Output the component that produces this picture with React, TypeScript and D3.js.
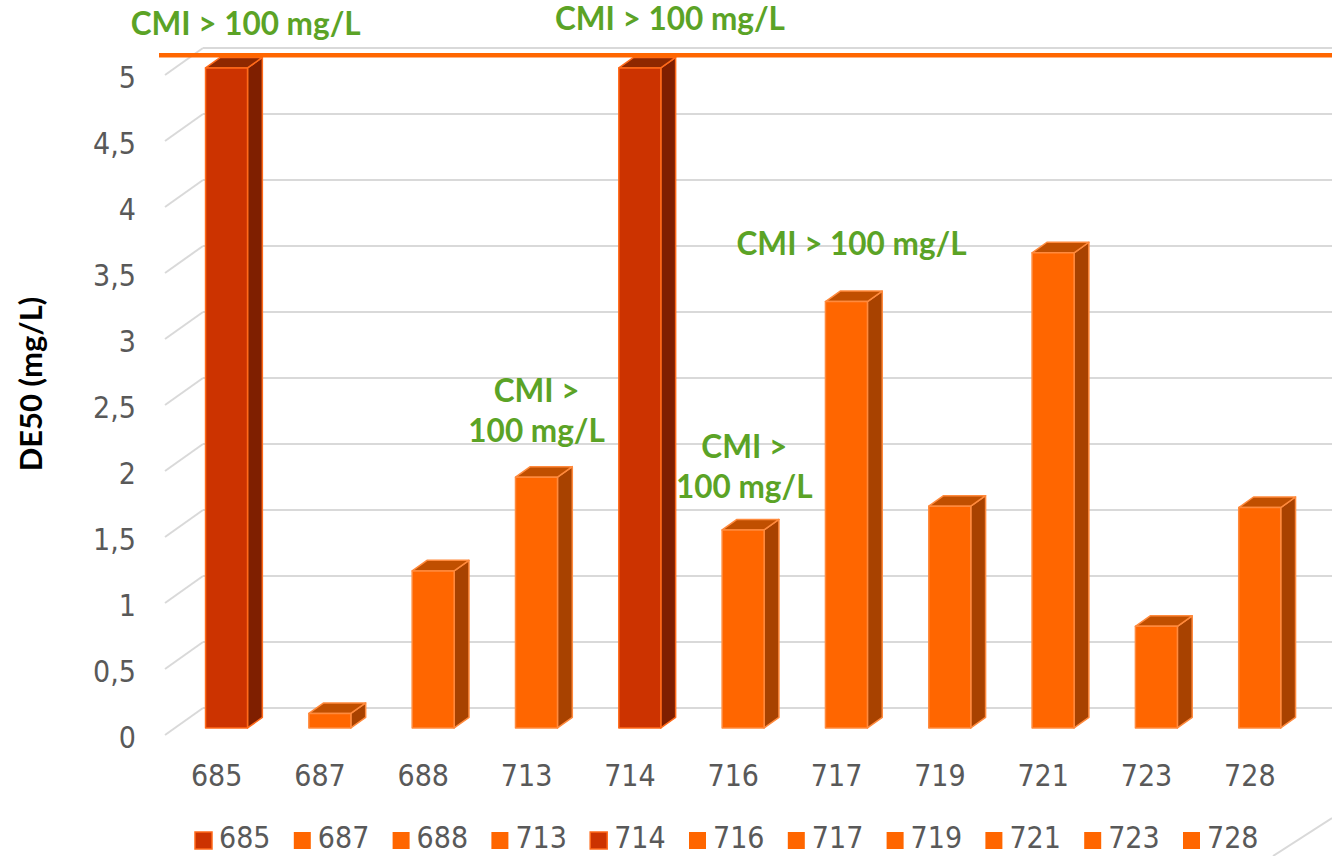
import React from "react";
import * as d3 from "d3";

// DE50 per strain (mg/L); strains 685 and 714 exceed the axis and are shown at the cap
const CATEGORIES = ["685", "687", "688", "713", "714", "716", "717", "719", "721", "723", "728"];
const DE50 = [5, 0.11, 1.19, 1.9, 5, 1.5, 3.23, 1.68, 3.6, 0.77, 1.67];
const CAPPED = ["685", "714"];
const Y_TICKS = [0, 0.5, 1, 1.5, 2, 2.5, 3, 3.5, 4, 4.5, 5];
const Y_TITLE = "DE50 (mg/L)";
const CAP_LEVEL = 5.15;

// CMI notes written above some of the bars
const NOTES = [
  { cat: "685", lines: ["CMI > 100 mg/L"] },
  { cat: "714", lines: ["CMI > 100 mg/L"] },
  { cat: "713", lines: ["CMI >", "100 mg/L"] },
  { cat: "716", lines: ["CMI >", "100 mg/L"] },
  { cat: "717", lines: ["CMI > 100 mg/L"] },
];

const W = 1332;
const H = 856;

const TICK_FONT = "'DejaVu Sans Condensed', 'DejaVu Sans', sans-serif";
const BOLD_FONT = "Lato, 'Open Sans', sans-serif";
const GREEN = "#5BA326";
const GRID = "#D9D9D9";
const TEXT = "#595959";

// where each note sits: horizontal shift from the band centre (px) and baseline level (data units)
const NOTE_PLACE: Record<string, { dx: number; level: number }> = {
  "685": { dx: 29, level: 5.3 },
  "714": { dx: 40, level: 5.34 },
  "713": { dx: 10, level: 2.22 },
  "716": { dx: 11, level: 1.795 },
  "717": { dx: 15, level: 3.64 },
};

export default function App() {
  const x = d3.scaleBand<string>().domain(CATEGORIES).range([165, 1301.5]);
  const y = d3.scaleLinear().domain([0, 5]).range([735, 75]);

  // oblique projection: z = 0 is the front edge of the floor, z = 1 the back wall
  const DX = 38;
  const DY = -27;
  const proj = (px: number, v: number, z: number): [number, number] => [px + z * DX, y(v) + z * DY];
  const ZF = 0.26;
  const ZB = 0.65;
  const HALF = 21;

  const pts = (arr: [number, number][]) => arr.map((p) => p.join(",")).join(" ");

  const legend = d3
    .scaleBand<string>()
    .domain(CATEGORIES)
    .range([195, 195 + 98.8 * CATEGORIES.length]);

  return (
    <svg
      width={W}
      height={H}
      style={{ position: "absolute", left: 0, top: 0, background: "#fff" }}
    >
      {/* gridlines: side wall and back wall */}
      {Y_TICKS.map((t) => {
        const a = proj(165, t, 0);
        const b = proj(165, t, 1);
        return (
          <g key={"g" + t}>
            <line x1={a[0]} y1={a[1]} x2={b[0]} y2={b[1]} stroke={GRID} strokeWidth={2} />
            <line x1={b[0]} y1={b[1]} x2={W} y2={b[1]} stroke={GRID} strokeWidth={2.2} />
          </g>
        );
      })}
      {/* floor edge on the right */}
      <line x1={1273} y1={H} x2={W} y2={818} stroke={GRID} strokeWidth={2} />

      {/* y tick labels */}
      {Y_TICKS.map((t) => (
        <text
          key={"t" + t}
          x={136}
          y={y(t) + 12.5}
          textAnchor="end"
          fontFamily={TICK_FONT}
          fontSize={30}
          fill={TEXT}
        >
          {String(t).replace(".", ",")}
        </text>
      ))}

      {/* y title */}
      <text
        transform={`translate(42,${384}) rotate(-90)`}
        textAnchor="middle"
        fontFamily={BOLD_FONT}
        fontWeight={700}
        fontSize={31}
        fill="#000"
      >
        {Y_TITLE}
      </text>

      {/* bars */}
      {CATEGORIES.map((c, i) => {
        const v = DE50[i];
        const cx = (x(c) as number) + x.bandwidth() / 2;
        const capped = CAPPED.includes(c);
        const front = capped ? "#CC3300" : "#FF6600";
        const side = capped ? "#7F1F00" : "#A84200";
        const top = capped ? "#8E2800" : "#C04F00";
        const edge = capped ? "#FF6A1A" : "#FF8A3D";
        const fl = proj(cx - HALF, v, ZF);
        const fr = proj(cx + HALF, v, ZF);
        const br = proj(cx + HALF, v, ZB);
        const bl = proj(cx - HALF, v, ZB);
        const frb = proj(cx + HALF, 0, ZF);
        const brb = proj(cx + HALF, 0, ZB);
        const flb = proj(cx - HALF, 0, ZF);
        return (
          <g key={"b" + c} strokeLinejoin="round">
            <polygon points={pts([fr, br, brb, frb])} fill={side} stroke={edge} strokeWidth={1.5} />
            <polygon points={pts([fl, fr, br, bl])} fill={top} stroke={edge} strokeWidth={1.5} />
            <polygon points={pts([fl, fr, frb, flb])} fill={front} stroke={edge} strokeWidth={1.5} />
          </g>
        );
      })}

      {/* cap line */}
      <line
        x1={159}
        y1={y(CAP_LEVEL)}
        x2={W}
        y2={y(CAP_LEVEL)}
        stroke="#FF6600"
        strokeWidth={4.5}
      />

      {/* category labels */}
      {CATEGORIES.map((c) => (
        <text
          key={"c" + c}
          x={(x(c) as number) + x.bandwidth() / 2}
          y={786}
          textAnchor="middle"
          fontFamily={TICK_FONT}
          fontSize={30}
          fill={TEXT}
        >
          {c}
        </text>
      ))}

      {/* notes */}
      {NOTES.map((n) => {
        const p = NOTE_PLACE[n.cat];
        const cx = (x(n.cat) as number) + x.bandwidth() / 2 + p.dx;
        const base = y(p.level);
        return (
          <text
            key={"n" + n.cat}
            textAnchor="middle"
            fontFamily={BOLD_FONT}
            fontWeight={700}
            fontSize={31.5}
            fill={GREEN}
          >
            {n.lines.map((l, k) => (
              <tspan key={k} x={cx} y={base - (n.lines.length - 1 - k) * 40}>
                {l}
              </tspan>
            ))}
          </text>
        );
      })}

      {/* legend */}
      {CATEGORIES.map((c) => {
        const lx = legend(c) as number;
        const capped = CAPPED.includes(c);
        return (
          <g key={"l" + c}>
            <rect
              x={lx}
              y={832}
              width={17}
              height={17}
              fill={capped ? "#CC3300" : "#FF6600"}
              stroke={capped ? "#FF6A1A" : "none"}
              strokeWidth={1.5}
            />
            <text x={lx + 24} y={848} fontFamily={TICK_FONT} fontSize={30} fill={TEXT}>
              {c}
            </text>
          </g>
        );
      })}
    </svg>
  );
}
